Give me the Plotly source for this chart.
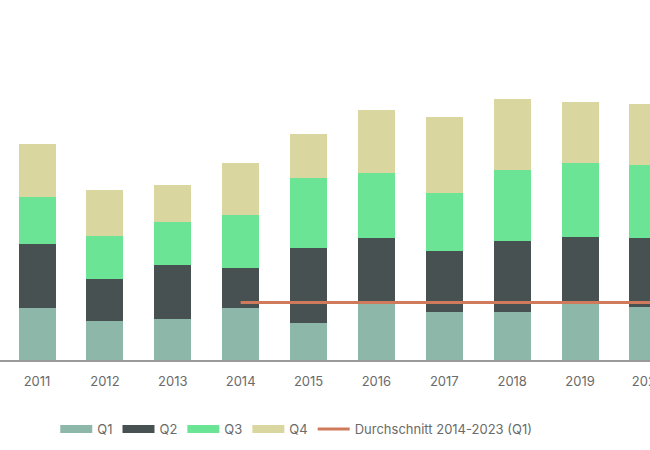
import plotly.graph_objects as go

years = ["2011", "2012", "2013", "2014", "2015", "2016", "2017", "2018", "2019", "2020"]
all_years = years + ["2021", "2022", "2023"]

q1 = [12.0, 9.1, 9.5, 12.0, 8.7, 13.3, 11.2, 11.2, 13.3, 12.4]
q2 = [15.0, 9.8, 12.5, 9.5, 17.3, 15.0, 14.1, 16.4, 15.2, 15.9]
q3 = [10.8, 10.0, 10.0, 12.3, 16.3, 15.3, 13.6, 16.7, 17.4, 17.0]
q4 = [12.4, 10.6, 8.7, 11.9, 10.2, 14.5, 17.7, 16.3, 14.2, 14.3]

avg_years = ["2014", "2015", "2016", "2017", "2018", "2019", "2020", "2021", "2022", "2023"]
avg_q1 = [13.4] * len(avg_years)

colors = {
    "Q1": "#8db8a9",
    "Q2": "#475152",
    "Q3": "#6be595",
    "Q4": "#dad69f",
    "avg": "#cf7a5b",
}

fig = go.Figure()

for name, vals in [("Q1", q1), ("Q2", q2), ("Q3", q3), ("Q4", q4)]:
    fig.add_trace(go.Bar(x=years, y=vals, name=name, marker_color=colors[name],
                         marker_line_width=0, showlegend=False))

fig.add_trace(go.Scatter(x=avg_years, y=avg_q1, mode="lines", showlegend=False,
                         line=dict(color=colors["avg"], width=3)))

# legend entries drawn as wide swatches like the original
for name in ["Q1", "Q2", "Q3", "Q4"]:
    fig.add_trace(go.Scatter(x=[None], y=[None], mode="lines", name=name,
                             line=dict(color=colors[name], width=8)))
fig.add_trace(go.Scatter(x=[None], y=[None], mode="lines", name="Durchschnitt 2014-2023 (Q1)",
                         line=dict(color=colors["avg"], width=3)))

fig.update_layout(
    width=650,
    height=450,
    barmode="stack",
    bargap=0.455,
    plot_bgcolor="white",
    paper_bgcolor="white",
    margin=dict(l=0, r=0, t=20, b=90),
    font=dict(family="Inter", size=13, color="#6a6a6a"),
    legend=dict(orientation="h", traceorder="normal", x=0.085, xanchor="left",
                y=-0.159, yanchor="top", font=dict(size=13, color="#6a6a6a"),
                itemwidth=32),
    xaxis=dict(type="category", categoryarray=all_years, categoryorder="array",
               range=[-0.545, 9.03], automargin=False,
               showline=True, linecolor="#9a9a9a", linewidth=1.5,
               ticks="outside", ticklen=9, tickcolor="rgba(0,0,0,0)",
               tickfont=dict(size=13, color="#6a6a6a"), showgrid=False),
    yaxis=dict(range=[0, 340 / 4.3], visible=False, showgrid=False, zeroline=False,
               automargin=False),
)

# no page margin / scrollbars, so the figure fills the window exactly
page_js = ("document.documentElement.style.overflow='hidden';"
           "document.body.style.overflow='hidden';"
           "document.body.style.margin='0px';")
fig.write_html("out.html", config={"displayModeBar": False}, post_script=page_js)
